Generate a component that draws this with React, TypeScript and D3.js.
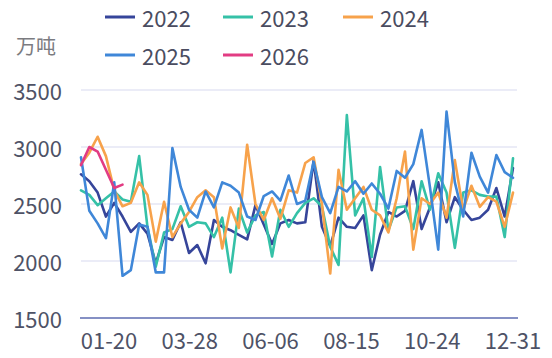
import React from 'react';
import * as d3 from 'd3';

const years = ['2022', '2023', '2024', '2025', '2026'];
const colors = ['#36459a', '#35c1a7', '#f7a24b', '#3f87d8', '#e23c83'];

const s2022 = [2760, 2700, 2600, 2390, 2510, 2390, 2255, 2330, 2240, 1980, 2210, 2185, 2340, 2070, 2140, 1980, 2360, 2300, 2270, 2230, 2190, 2490, 2320, 2150, 2330, 2360, 2330, 2340, 2880, 2300, 2130, 2380, 2300, 2290, 2400, 1920, 2230, 2430, 2390, 2440, 2700, 2280, 2470, 2690, 2340, 2560, 2450, 2360, 2380, 2450, 2640, 2390, 2815];
const s2023 = [2620, 2580, 2490, 2550, 2610, 2540, 2520, 2920, 2300, 1950, 2250, 2280, 2480, 2300, 2340, 2330, 2210, 2380, 1900, 2460, 2250, 2400, 2430, 2040, 2450, 2300, 2420, 2510, 2550, 2480, 2125, 1965, 3280, 2400, 2550, 2035, 2825, 2270, 2470, 2480, 2280, 2700, 2450, 2770, 2600, 2115, 2600, 2620, 2580, 2565, 2565, 2210, 2900];
const s2024 = [2850, 2950, 3090, 2920, 2620, 2480, 2510, 2690, 2580, 2170, 2520, 2210, 2330, 2430, 2560, 2620, 2560, 2110, 2470, 2290, 3020, 2500, 2360, 2550, 2370, 2620, 2600, 2860, 2910, 2500, 1890, 2800, 2450, 2550, 2650, 2450, 2400, 2250, 2550, 2960, 2100, 2550, 2500, 2600, 2380, 2885, 2450, 2660, 2475, 2560, 2520, 2300, 2600];
const s2025 = [2910, 2440, 2330, 2200, 2690, 1870, 1920, 2320, 2300, 1900, 1900, 2990, 2650, 2450, 2380, 2610, 2470, 2690, 2660, 2600, 2390, 2360, 2570, 2610, 2530, 2750, 2500, 2530, 2870, 2560, 2420, 2650, 2610, 2700, 2590, 2680, 2590, 2460, 2790, 2730, 2850, 3150, 2650, 2100, 3310, 2690, 2390, 2950, 2740, 2600, 2930, 2780, 2730];
const s2026 = [2840, 3000, 2960, 2800, 2640, 2670];

const seriesList = [s2022, s2023, s2024, s2025, s2026];
const yTicks = [1500, 2000, 2500, 3000, 3500];
const xTickLabels = ['01-20', '03-28', '06-06', '08-15', '10-24', '12-31'];
const unitLabel = '万吨';

const FONT = '"Noto Sans CJK SC", "Noto Sans", sans-serif';

export default function App() {
  const W = 552;
  const H = 358;
  const idx = d3.scaleLinear().domain([0, 52]).range([81, 513]);
  const xLab = d3.scalePoint<string>().domain(xTickLabels).range([109, 513]);
  const y = d3.scaleLinear().domain([1500, 3500]).range([318, 90]);
  const line = d3.line<number>().x((_, i) => idx(i)).y((d) => y(d));
  const legendPos = [
    [105, 17], [223, 17], [343, 17], [105, 55], [223, 55],
  ];
  return (
    <svg width={W} height={H} style={{ position: 'absolute', left: 0, top: 0, background: '#fff' }} fontFamily={FONT}>
      <text x={36} y={45} textAnchor="middle" dominantBaseline="central" fontSize={20} fill="#7b7b80">{unitLabel}</text>
      {yTicks.map((t) => (
        <g key={t}>
          {t !== 1500 && <line x1={81} x2={517} y1={y(t)} y2={y(t)} stroke="#e4e6f4" strokeWidth={1.5} />}
          <text x={62} y={y(t)} textAnchor="end" dominantBaseline="central" fontSize={22} fill="#4e5266">{t}</text>
        </g>
      ))}
      <line x1={80} x2={518} y1={y(1500)} y2={y(1500)} stroke="#8590c4" strokeWidth={2} />
      {xTickLabels.map((l) => (
        <text key={l} x={xLab(l)} y={339} textAnchor="middle" dominantBaseline="central" fontSize={22} fill="#4e5266">{l}</text>
      ))}
      {seriesList.map((s, k) => (
        <path key={years[k]} d={line(s) || ''} fill="none" stroke={colors[k]} strokeWidth={2.6} strokeLinejoin="round" strokeLinecap="round" />
      ))}
      {years.map((yr, k) => (
        <g key={yr} transform={`translate(${legendPos[k][0]},${legendPos[k][1]})`}>
          <line x1={0} x2={30} y1={0} y2={0} stroke={colors[k]} strokeWidth={3} />
          <text x={37} y={0} dominantBaseline="central" fontSize={22} fill="#4a4c60">{yr}</text>
        </g>
      ))}
    </svg>
  );
}
